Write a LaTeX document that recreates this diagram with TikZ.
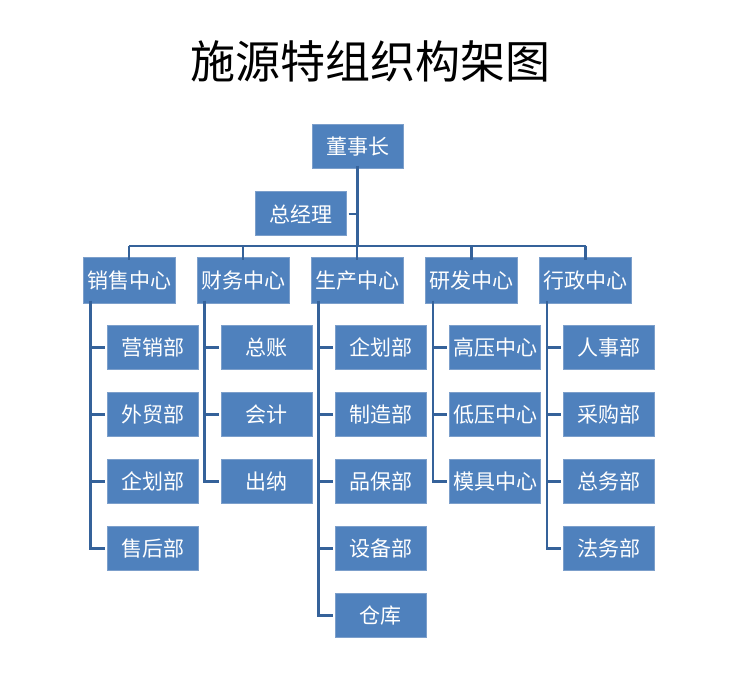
\documentclass[tikz,border=0pt]{standalone}
\usepackage{fontspec}
\setmainfont{Noto Sans CJK SC}
\usepackage{tikz}
\usetikzlibrary{positioning}

\definecolor{boxblue}{HTML}{4F81BD}
\definecolor{boxedge}{HTML}{7C9FCB}
\definecolor{linkblue}{HTML}{35629A}

\tikzset{
    unit/.style={draw=boxedge, line width=1pt, fill=boxblue, text=white,
        minimum width=91pt, minimum height=44pt, inner sep=0pt,
        font=\fontsize{21}{21}\selectfont},
    link/.style={draw=linkblue, line width=2.6pt}
}

\begin{document}
\begin{tikzpicture}[x=1pt,y=-1pt]
        \useasboundingbox (0,0) rectangle (752,676);

        \node (Title) at (370,61) {\fontsize{45}{45}\selectfont 施源特组织构架图};

        \node[unit] (Chairman) at (357.5,146.5) {董事长};
        \node[unit] (Manager) at (300.5,214) {总经理};
        \coordinate (Bus) at (357,246);

        % centers
        \node[unit, minimum width=92pt, minimum height=45pt] (Sales) at (129,280.5) {销售中心};
        \node[unit, minimum width=92pt, minimum height=45pt] (Finance) at (243,280.5) {财务中心};
        \node[unit, minimum width=92pt, minimum height=45pt] (Production) at (357,280.5) {生产中心};
        \node[unit, minimum width=92pt, minimum height=45pt] (Research) at (471.5,280.5) {研发中心};
        \node[unit, minimum width=92pt, minimum height=45pt] (Admin) at (585.5,280.5) {行政中心};

        % departments
        \node[unit] (Marketing) at (152.5,347.5) {营销部};
        \node[unit] (Trade) at (152.5,414.5) {外贸部};
        \node[unit] (SalesPlan) at (152.5,481.5) {企划部};
        \node[unit] (AfterSales) at (152.5,548.5) {售后部};

        \node[unit] (Ledger) at (266.5,347.5) {总账};
        \node[unit] (Accounting) at (266.5,414.5) {会计};
        \node[unit] (Cashier) at (266.5,481.5) {出纳};

        \node[unit] (ProdPlan) at (380.5,347.5) {企划部};
        \node[unit] (Making) at (380.5,414.5) {制造部};
        \node[unit] (Quality) at (380.5,481.5) {品保部};
        \node[unit] (Equipment) at (380.5,548.5) {设备部};
        \node[unit] (Store) at (380.5,615.5) {仓库};

        \node[unit] (HighVolt) at (495,347.5) {高压中心};
        \node[unit] (LowVolt) at (495,414.5) {低压中心};
        \node[unit] (Mould) at (495,481.5) {模具中心};

        \node[unit] (Personnel) at (609,347.5) {人事部};
        \node[unit] (Purchase) at (609,414.5) {采购部};
        \node[unit] (General) at (609,481.5) {总务部};
        \node[unit] (Legal) at (609,548.5) {法务部};

        \draw[link] ([yshift=3pt]Chairman.south) -- (Chairman.south |- Bus);
        \draw[link] ([xshift=2pt]Manager.east) -- (Chairman.south |- Manager.east);
        \draw[link] (Sales.north |- Bus) -- (Admin.north |- Bus);
        \draw[link] (Sales.north |- Bus) -- ([yshift=-3pt]Sales.north);
        \draw[link] (Finance.north |- Bus) -- ([yshift=-3pt]Finance.north);
        \draw[link] (Production.north |- Bus) -- ([yshift=-3pt]Production.north);
        \draw[link] (Research.north |- Bus) -- ([yshift=-3pt]Research.north);
        \draw[link] (Admin.north |- Bus) -- ([yshift=-3pt]Admin.north);

        \draw[link] ([xshift=8pt,yshift=3pt]Sales.south west) |- ([xshift=-2pt]AfterSales.west);
        \draw[link] ([xshift=8pt]Sales.south west |- Marketing.west) -- ([xshift=-2pt]Marketing.west);
        \draw[link] ([xshift=8pt]Sales.south west |- Trade.west) -- ([xshift=-2pt]Trade.west);
        \draw[link] ([xshift=8pt]Sales.south west |- SalesPlan.west) -- ([xshift=-2pt]SalesPlan.west);

        \draw[link] ([xshift=8pt,yshift=3pt]Finance.south west) |- ([xshift=-2pt]Cashier.west);
        \draw[link] ([xshift=8pt]Finance.south west |- Ledger.west) -- ([xshift=-2pt]Ledger.west);
        \draw[link] ([xshift=8pt]Finance.south west |- Accounting.west) -- ([xshift=-2pt]Accounting.west);

        \draw[link] ([xshift=8pt,yshift=3pt]Production.south west) |- ([xshift=-2pt]Store.west);
        \draw[link] ([xshift=8pt]Production.south west |- ProdPlan.west) -- ([xshift=-2pt]ProdPlan.west);
        \draw[link] ([xshift=8pt]Production.south west |- Making.west) -- ([xshift=-2pt]Making.west);
        \draw[link] ([xshift=8pt]Production.south west |- Quality.west) -- ([xshift=-2pt]Quality.west);
        \draw[link] ([xshift=8pt]Production.south west |- Equipment.west) -- ([xshift=-2pt]Equipment.west);

        \draw[link] ([xshift=8pt,yshift=3pt]Research.south west) |- ([xshift=-2pt]Mould.west);
        \draw[link] ([xshift=8pt]Research.south west |- HighVolt.west) -- ([xshift=-2pt]HighVolt.west);
        \draw[link] ([xshift=8pt]Research.south west |- LowVolt.west) -- ([xshift=-2pt]LowVolt.west);

        \draw[link] ([xshift=8pt,yshift=3pt]Admin.south west) |- ([xshift=-2pt]Legal.west);
        \draw[link] ([xshift=8pt]Admin.south west |- Personnel.west) -- ([xshift=-2pt]Personnel.west);
        \draw[link] ([xshift=8pt]Admin.south west |- Purchase.west) -- ([xshift=-2pt]Purchase.west);
        \draw[link] ([xshift=8pt]Admin.south west |- General.west) -- ([xshift=-2pt]General.west);

\end{tikzpicture}
\end{document}
